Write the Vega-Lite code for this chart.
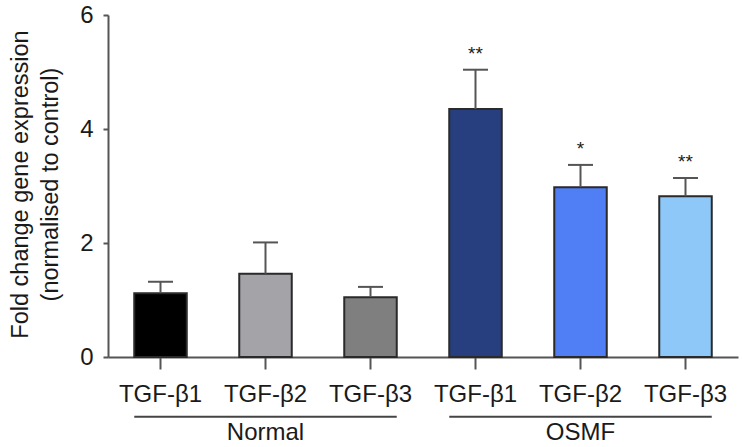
{
  "$schema": "https://vega.github.io/schema/vega-lite/v6.json",
  "width": 630,
  "height": 342,
  "autosize": {"type": "none"},
  "padding": {"left": 108, "top": 15, "right": 4, "bottom": 90},
  "config": {"view": {"stroke": null}, "font": "Liberation Sans"},
  "datasets": {
    "bars": [
      {"key": "Normal TGF-β1", "mean": 1.12, "err": 1.32, "sig": ""},
      {"key": "Normal TGF-β2", "mean": 1.46, "err": 2.01, "sig": ""},
      {"key": "Normal TGF-β3", "mean": 1.05, "err": 1.23, "sig": ""},
      {"key": "OSMF TGF-β1", "mean": 4.35, "err": 5.04, "sig": "**"},
      {"key": "OSMF TGF-β2", "mean": 2.98, "err": 3.37, "sig": "*"},
      {"key": "OSMF TGF-β3", "mean": 2.82, "err": 3.14, "sig": "**"}
    ],
    "groups": [
      {"group": "Normal", "from": "Normal TGF-β1", "to": "Normal TGF-β3", "mid": "Normal TGF-β2", "ly": -1.05, "ty": -1.33},
      {"group": "OSMF", "from": "OSMF TGF-β1", "to": "OSMF TGF-β3", "mid": "OSMF TGF-β2", "ly": -1.05, "ty": -1.33}
    ]
  },
  "layer": [
    {
      "data": {"name": "bars"},
      "mark": {"type": "bar", "stroke": "#2a2a2a", "strokeWidth": 2},
      "encoding": {
        "x": {
          "field": "key", "type": "nominal",
          "scale": {"domain": ["Normal TGF-β1", "Normal TGF-β2", "Normal TGF-β3", "OSMF TGF-β1", "OSMF TGF-β2", "OSMF TGF-β3"], "paddingInner": 0.5, "paddingOuter": 0.25},
          "axis": {
            "title": null, "labelAngle": 0, "labelExpr": "split(datum.value, ' ')[1]",
            "labelFontSize": 24, "labelColor": "#1a1a1a", "labelPadding": 13,
            "domainColor": "#555555", "domainWidth": 2,
            "tickColor": "#555555", "tickWidth": 2, "tickSize": 12
          }
        },
        "y": {
          "field": "mean", "type": "quantitative",
          "scale": {"domain": [0, 6], "nice": false},
          "axis": {
            "values": [0, 2, 4, 6], "grid": false, "format": "d",
            "title": ["Fold change gene expression", "(normalised to control)"],
            "titleFontSize": 23.5, "titleFontWeight": "normal", "titleColor": "#1a1a1a",
            "titleLineHeight": 30, "titleAngle": -90, "titleAlign": "center", "titleBaseline": "middle",
            "titleX": -88, "titleY": 169,
            "labelFontSize": 24, "labelColor": "#1a1a1a", "labelPadding": 10,
            "domainColor": "#555555", "domainWidth": 2,
            "tickColor": "#555555", "tickWidth": 2, "tickSize": 5
          }
        },
        "fill": {
          "field": "key", "type": "nominal", "legend": null,
          "scale": {
            "domain": ["Normal TGF-β1", "Normal TGF-β2", "Normal TGF-β3", "OSMF TGF-β1", "OSMF TGF-β2", "OSMF TGF-β3"],
            "range": ["#000000", "#a3a3a8", "#7f7f80", "#273f7e", "#4f7ef5", "#8ec8f8"]
          }
        }
      }
    },
    {
      "data": {"name": "bars"},
      "mark": {"type": "rule", "color": "#555555", "strokeWidth": 2},
      "encoding": {
        "x": {"field": "key", "type": "nominal"},
        "y": {"field": "mean", "type": "quantitative"},
        "y2": {"field": "err"}
      }
    },
    {
      "data": {"name": "bars"},
      "mark": {"type": "tick", "color": "#555555", "size": 25, "thickness": 2, "opacity": 1},
      "encoding": {
        "x": {"field": "key", "type": "nominal"},
        "y": {"field": "err", "type": "quantitative"}
      }
    },
    {
      "data": {"name": "bars"},
      "mark": {"type": "text", "fontSize": 19, "dy": -10, "baseline": "alphabetic", "color": "#1a1a1a"},
      "encoding": {
        "x": {"field": "key", "type": "nominal"},
        "y": {"field": "err", "type": "quantitative"},
        "text": {"field": "sig"}
      }
    },
    {
      "data": {"name": "groups"},
      "mark": {"type": "rule", "color": "#444444", "strokeWidth": 2},
      "encoding": {
        "x": {"field": "from", "type": "nominal", "bandPosition": 0},
        "x2": {"field": "to", "bandPosition": 1},
        "y": {"field": "ly", "type": "quantitative"}
      }
    },
    {
      "data": {"name": "groups"},
      "mark": {"type": "text", "fontSize": 24, "baseline": "middle", "color": "#1a1a1a"},
      "encoding": {
        "x": {"field": "mid", "type": "nominal"},
        "y": {"field": "ty", "type": "quantitative"},
        "text": {"field": "group"}
      }
    }
  ]
}
